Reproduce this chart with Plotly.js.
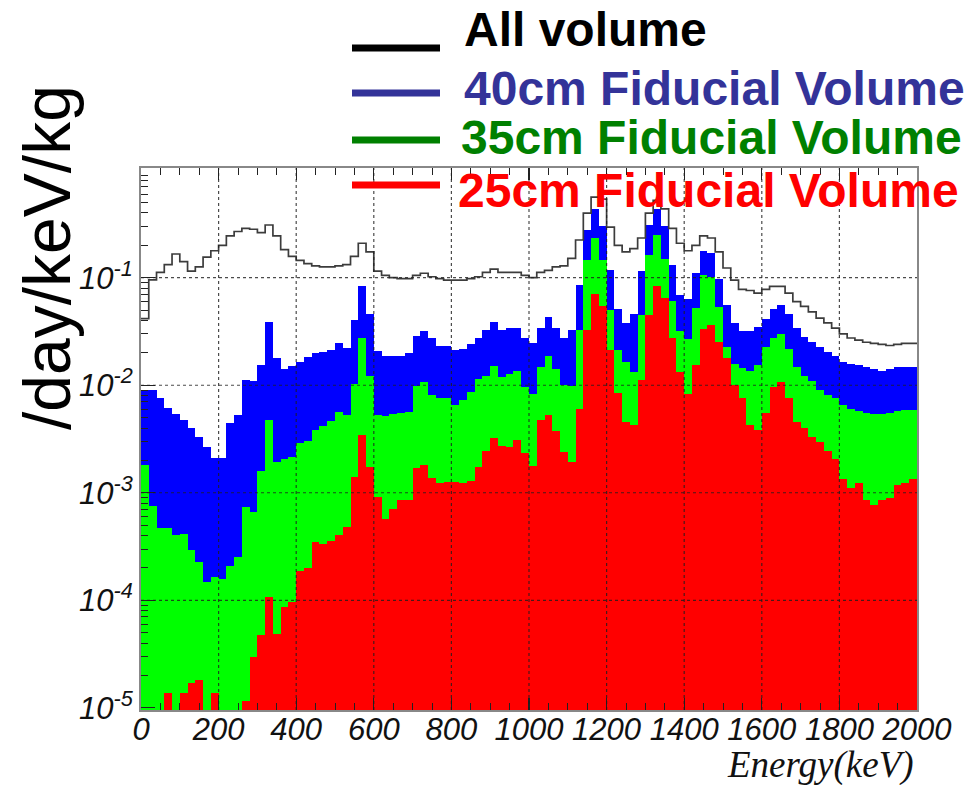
<!DOCTYPE html>
<html>
<head>
<meta charset="utf-8">
<script src="https://cdn.plot.ly/plotly-3.0.1.min.js"></script>
<style>
  html, body { margin: 0; padding: 0; background: #ffffff; }
  #chart { width: 975px; height: 785px; }
</style>
</head>
<body>
<div id="chart"></div>
<script>
// ---- data (events /day/keV/kg, 20 keV bins from 0 to 2000 keV) ----
const binWidthKeV = 20;

const allVolume = [
  0.0417, 0.0955, 0.112, 0.132, 0.166, 0.141, 0.115, 0.126, 0.155, 0.178,
  0.200, 0.245, 0.269, 0.288, 0.282, 0.263, 0.309, 0.245, 0.182, 0.158,
  0.145, 0.135, 0.129, 0.126, 0.126, 0.129, 0.132, 0.158, 0.209, 0.174,
  0.115, 0.105, 0.100, 0.098, 0.098, 0.105, 0.110, 0.102, 0.098, 0.095,
  0.095, 0.095, 0.098, 0.102, 0.112, 0.120, 0.112, 0.112, 0.112, 0.105,
  0.100, 0.112, 0.117, 0.126, 0.129, 0.151, 0.224, 0.398, 0.562, 0.537,
  0.295, 0.200, 0.174, 0.186, 0.234, 0.398, 0.525, 0.437, 0.288, 0.209,
  0.178, 0.200, 0.245, 0.234, 0.174, 0.123, 0.095, 0.078, 0.076, 0.072,
  0.078, 0.083, 0.083, 0.072, 0.060, 0.054, 0.048, 0.042, 0.038, 0.034,
  0.030, 0.0275, 0.0263, 0.0251, 0.0245, 0.0240, 0.0234, 0.0240, 0.0245, 0.0245
];

const fiducial40cm = [
  0.00912, 0.00912, 0.00759, 0.00617, 0.00537, 0.00479, 0.00398, 0.00331, 0.00269, 0.00209,
  0.00209, 0.00447, 0.00525, 0.0112, 0.0110, 0.0155, 0.0389, 0.0178, 0.0141, 0.0151,
  0.0166, 0.0182, 0.0200, 0.0204, 0.0214, 0.0245, 0.0224, 0.0407, 0.0832, 0.0457,
  0.0209, 0.0186, 0.0186, 0.0186, 0.0200, 0.0288, 0.0316, 0.0275, 0.0234, 0.0234,
  0.0214, 0.0219, 0.0240, 0.0275, 0.0324, 0.0389, 0.0324, 0.0339, 0.0339, 0.0275,
  0.0245, 0.0339, 0.0427, 0.0339, 0.0275, 0.0324, 0.0851, 0.275, 0.437, 0.302,
  0.117, 0.0513, 0.0380, 0.0457, 0.115, 0.309, 0.437, 0.302, 0.132, 0.0692,
  0.0631, 0.110, 0.178, 0.170, 0.0977, 0.0562, 0.0380, 0.0316, 0.0316, 0.0347,
  0.0417, 0.0513, 0.0562, 0.0457, 0.0339, 0.0282, 0.0251, 0.0229, 0.0204, 0.0186,
  0.0166, 0.0158, 0.0155, 0.0148, 0.0141, 0.0135, 0.0141, 0.0148, 0.0148, 0.0148
];

const fiducial35cm = [
  0.00182, 0.000759, 0.000468, 0.000468, 0.000407, 0.000417, 0.000295, 0.000229, 0.000148, 0.000166,
  0.000158, 0.000209, 0.000251, 0.000741, 0.000661, 0.00158, 0.00479, 0.00195, 0.00204, 0.00214,
  0.00288, 0.00302, 0.00380, 0.00417, 0.00468, 0.00562, 0.00525, 0.0102, 0.0275, 0.0123,
  0.00525, 0.00513, 0.00537, 0.00550, 0.00562, 0.00977, 0.0107, 0.00813, 0.00759, 0.00759,
  0.00661, 0.00724, 0.00871, 0.0115, 0.0123, 0.0151, 0.0120, 0.0126, 0.0135, 0.00955,
  0.00832, 0.0148, 0.0186, 0.0141, 0.0100, 0.00977, 0.0324, 0.145, 0.234, 0.145,
  0.0501, 0.0214, 0.0166, 0.0132, 0.0447, 0.162, 0.251, 0.148, 0.0603, 0.0316,
  0.0269, 0.0525, 0.105, 0.102, 0.0537, 0.0229, 0.0158, 0.0145, 0.0135, 0.0155,
  0.0229, 0.0275, 0.0302, 0.0219, 0.0148, 0.0123, 0.0110, 0.00912, 0.00813, 0.00759,
  0.00661, 0.00603, 0.00575, 0.00550, 0.00537, 0.00537, 0.00550, 0.00575, 0.00589, 0.00589
];

const fiducial25cm = [
  null, null, null, 1.38e-5, null, 1.38e-5, 1.70e-5, 1.82e-5, null, 1.38e-5,
  null, null, null, 1.17e-5, 2.95e-5, 4.79e-5, 1.07e-4, 4.90e-5, 8.71e-5, 9.55e-5,
  1.86e-4, 2.00e-4, 3.47e-4, 3.31e-4, 3.55e-4, 4.07e-4, 4.79e-4, 1.41e-3, 3.47e-3, 1.74e-3,
  9.12e-4, 5.75e-4, 7.08e-4, 8.51e-4, 8.51e-4, 1.70e-3, 1.82e-3, 1.38e-3, 1.23e-3, 1.26e-3,
  1.26e-3, 1.23e-3, 1.29e-3, 1.74e-3, 2.45e-3, 3.24e-3, 2.75e-3, 2.69e-3, 3.09e-3, 2.34e-3,
  1.78e-3, 4.79e-3, 5.25e-3, 3.72e-3, 2.40e-3, 1.95e-3, 6.03e-3, 0.0324, 0.0708, 0.0550,
  0.0214, 8.51e-3, 4.57e-3, 4.27e-3, 0.0112, 0.0447, 0.0832, 0.0646, 0.0275, 0.0132,
  8.32e-3, 0.0155, 0.0331, 0.0363, 0.0251, 0.0178, 0.0100, 7.59e-3, 4.27e-3, 3.80e-3,
  5.50e-3, 9.55e-3, 0.0107, 7.59e-3, 4.57e-3, 3.98e-3, 3.31e-3, 2.95e-3, 2.45e-3, 2.04e-3,
  1.35e-3, 1.10e-3, 1.23e-3, 8.51e-4, 7.76e-4, 8.51e-4, 8.91e-4, 1.17e-3, 1.23e-3, 1.35e-3
];

const seriesNames = ['All volume', '40cm Fiducial Volume', '35cm Fiducial Volume', '25cm Fiducial Volume'];
const xTickVals = [0, 200, 400, 600, 800, 1000, 1200, 1400, 1600, 1800, 2000];
const yTickVals = [1e-5, 1e-4, 1e-3, 1e-2, 1e-1];
const yTickText = ['10<sup>-5</sup>', '10<sup>-4</sup>', '10<sup>-3</sup>', '10<sup>-2</sup>', '10<sup>-1</sup>'];

// ---- derived bin geometry ----
const nBins = allVolume.length;
const binCenters = allVolume.map((_, i) => (i + 0.5) * binWidthKeV);
const binEdges = allVolume.map((_, i) => i * binWidthKeV).concat([nBins * binWidthKeV]);
const allVolumeStep = allVolume.concat([allVolume[nBins - 1]]);

const yMinor = [];
yTickVals.forEach(d => { for (let m = 2; m <= 9; m++) { if (d * m < 1.05) yMinor.push(d * m); } });

// ---- plot-area geometry helpers (pixels -> paper) ----
const W = 975, H = 785;
const M = { l: 141, r: 58, t: 168, b: 75 };
const PW = W - M.l - M.r, PH = H - M.t - M.b;
const px = x => (x - M.l) / PW;
const py = y => (H - M.b - y) / PH;

function bar(y, color, name) {
  return {
    type: 'bar', x: binCenters, y: y, width: binWidthKeV, name: name,
    marker: { color: color, line: { width: 0 } }, hoverinfo: 'skip', showlegend: false
  };
}

const traces = [
  bar(fiducial40cm, '#0000ff', seriesNames[1]),
  bar(fiducial35cm, '#00ff00', seriesNames[2]),
  bar(fiducial25cm, '#ff0000', seriesNames[3]),
  {
    type: 'scatter', mode: 'lines', x: binEdges, y: allVolumeStep, name: seriesNames[0],
    line: { shape: 'hv', color: '#3c3c3c', width: 1.7 }, hoverinfo: 'skip', showlegend: false
  }
];

const shapes = [];
xTickVals.slice(1, -1).forEach(v => shapes.push({
  type: 'line', xref: 'x', yref: 'paper', x0: v, x1: v, y0: 0, y1: 1, layer: 'above',
  line: { color: 'rgba(30,30,30,0.8)', width: 1.2, dash: 'dot' }
}));
yTickVals.slice(1).forEach(v => shapes.push({
  type: 'line', xref: 'paper', yref: 'y', x0: 0, x1: 1, y0: v, y1: v, layer: 'above',
  line: { color: 'rgba(30,30,30,0.8)', width: 1.2, dash: 'dot' }
}));

// legend samples
const legendColors = ['#000000', '#333399', '#008000', '#ff0000'];
const legendLineY = [48, 93, 140, 185];
const legendTextY = [30, 88, 137, 190];
const legendTextX = [462, 462, 459, 456];
legendColors.forEach((c, i) => shapes.push({
  type: 'line', xref: 'paper', yref: 'paper', x0: px(352), x1: px(440),
  y0: py(legendLineY[i]), y1: py(legendLineY[i]), layer: 'above',
  line: { color: c, width: 7 }
}));

const annotations = seriesNames.map((n, i) => ({
  xref: 'paper', yref: 'paper', x: px(legendTextX[i]), y: py(legendTextY[i]),
  xanchor: 'left', yanchor: 'middle', showarrow: false, text: n,
  font: { family: 'Liberation Sans, Arial, sans-serif', size: 48, weight: 'bold', color: legendColors[i] }
}));
annotations.push({
  xref: 'paper', yref: 'paper', x: px(915), y: py(765), xanchor: 'right', yanchor: 'middle',
  showarrow: false, text: 'Energy(keV)', borderpad: 0,
  font: { family: 'Liberation Serif, Times New Roman, serif', size: 37, style: 'italic', color: '#111' }
});
annotations.push({
  xref: 'paper', yref: 'paper', x: px(47), y: py(258), xanchor: 'center', yanchor: 'middle',
  showarrow: false, text: '/day/keV/kg', textangle: -90,
  font: { family: 'Liberation Sans, Arial, sans-serif', size: 66, color: '#000' }
});

const tickFont = { family: 'Liberation Sans, Arial, sans-serif', size: 31, style: 'italic', color: '#111' };

const layout = {
  width: W, height: H,
  margin: { l: M.l, r: M.r, t: M.t, b: M.b, pad: 0 },
  paper_bgcolor: '#ffffff', plot_bgcolor: '#ffffff',
  barmode: 'overlay', bargap: 0, showlegend: false, hovermode: false,
  xaxis: {
    range: [0, 2000], tickvals: xTickVals, ticks: 'inside', ticklen: 12, tickwidth: 1.2,
    tickcolor: '#222', showgrid: false, zeroline: false, showline: true, linecolor: '#888',
    linewidth: 2, mirror: 'ticks', tickfont: tickFont, tickangle: 0, ticklabelstandoff: -9,
    minor: { dtick: 50, ticks: 'inside', ticklen: 7, tickcolor: '#222', tickwidth: 1, showgrid: false }
  },
  yaxis: {
    type: 'log', range: [-5.02, 0.02], tickvals: yTickVals, ticktext: yTickText,
    ticks: 'inside', ticklen: 14, tickwidth: 1.2, tickcolor: '#222', showgrid: false,
    zeroline: false, showline: true, linecolor: '#888', linewidth: 2, mirror: true,
    tickfont: tickFont,
    minor: { tickvals: yMinor, ticks: 'inside', ticklen: 7, tickcolor: '#222', tickwidth: 1, showgrid: false }
  },
  shapes: shapes,
  annotations: annotations
};

Plotly.newPlot('chart', traces, layout, { staticPlot: true, displayModeBar: false });
</script>
</body>
</html>
